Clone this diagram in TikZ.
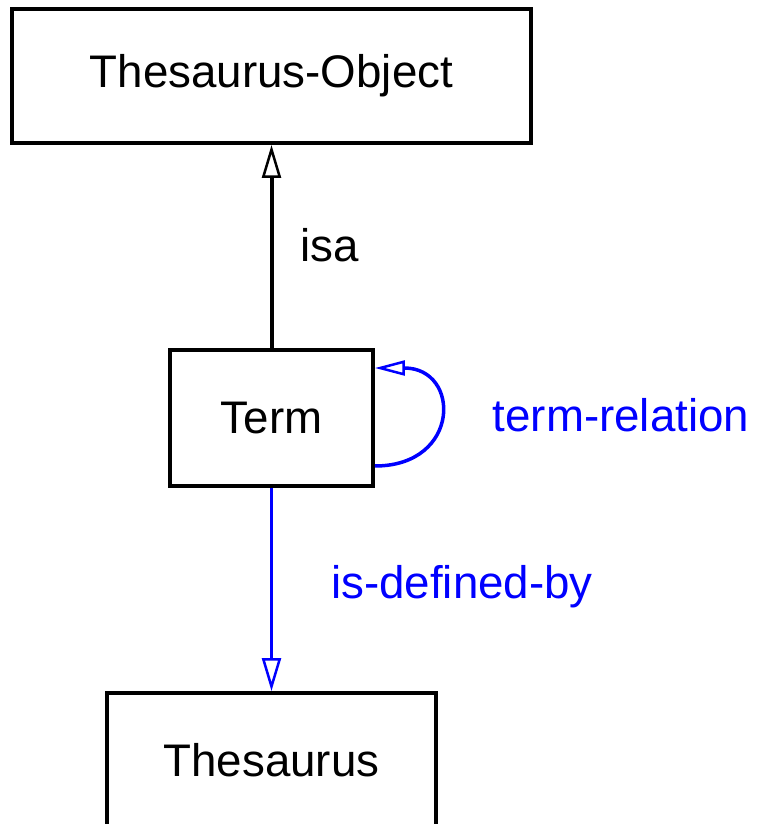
\documentclass[tikz,border=0pt]{standalone}
\usepackage{fontspec}
\setmainfont{Liberation Sans}
\usetikzlibrary{arrows.meta}
\begin{document}
\begin{tikzpicture}[x=0.02cm, y=-0.02cm,
        font=\fontsize{26}{30}\selectfont,
        box/.style={draw, line width=0.08cm, inner sep=0pt},
        isatip/.style={-{Triangle[open, length=0.66cm, width=0.38cm, line width=0.05cm]}},
        rel/.style={draw=blue, line width=0.07cm}]
    \useasboundingbox (0,0) rectangle (757,824);

    \node[box, minimum width=10.38cm, minimum height=2.68cm] (tobj) at (271.5,76) {Thesaurus-Object};
    \node[box, minimum width=4.06cm, minimum height=2.72cm] (term) at (271.5,418) {Term};
    \node[box, minimum width=6.58cm, minimum height=2.76cm] (thes) at (271.5,762) {\raisebox{0.08cm}{Thesaurus}};

    \draw[line width=0.08cm, isatip] (term) -- (tobj);
    \node[] (isa) at (330,245) {isa};

    \draw[rel, isatip] (term) -- (thes);
    \node[text=blue] (defby) at (462,587) {is-defined-by};

    \draw[rel, -{Triangle[open, length=0.6cm, width=0.3cm, line width=0.05cm]}]
        ([yshift=-0.96cm]term.east) .. controls +(86,0) and +(86,0) .. ([yshift=1cm]term.east);
    \node[text=blue] (trel) at (621,415) {term-relation};
\end{tikzpicture}
\end{document}
